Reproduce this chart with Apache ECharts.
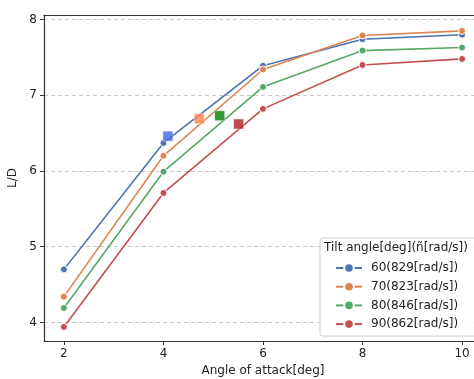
<!DOCTYPE html>
<html>
<head>
<meta charset="utf-8">
<script src="https://cdn.jsdelivr.net/npm/echarts@6/dist/echarts.min.js"></script>
<style>
  html, body { margin: 0; padding: 0; background: #fff; }
  #chart { width: 474px; height: 379px; }
</style>
</head>
<body>
<div id="chart"></div>
<script>
// angle of attack [deg]
const angles = [2, 4, 6, 8, 10];
// L/D per tilt angle
const ld60 = [4.70, 6.37, 7.39, 7.74, 7.80];
const ld70 = [4.34, 6.20, 7.34, 7.79, 7.85];
const ld80 = [4.19, 5.99, 7.11, 7.59, 7.63];
const ld90 = [3.94, 5.71, 6.82, 7.40, 7.48];
const names = ["60(829[rad/s])", "70(823[rad/s])", "80(846[rad/s])", "90(862[rad/s])"];
// highlighted points (squares)
const optX = [4.09, 4.72, 5.13, 5.51];
const optY = [6.46, 6.69, 6.73, 6.62];
const xTicks = [2, 4, 6, 8, 10];
const yTicks = [4, 5, 6, 7, 8];

const lineColors = ["#4c72b0", "#dd8452", "#55a868", "#c44e52"];
const squareColors = ["#4169e1", "#ff7f50", "#008000", "#b22222"];
const font = "DejaVu Sans";

const chart = echarts.init(document.getElementById("chart"), null, { renderer: "canvas" });

const lines = [ld60, ld70, ld80, ld90].map((vals, i) => ({
  name: names[i],
  type: "line",
  data: angles.map((a, j) => [a, vals[j]]),
  symbol: "circle",
  symbolSize: 7,
  color: lineColors[i],
  lineStyle: { width: 1.6, color: lineColors[i] },
  itemStyle: { color: lineColors[i], borderColor: "#fff", borderWidth: 1 },
  z: 2
}));

const squares = optX.map((x, i) => ({
  name: "opt" + i,
  type: "scatter",
  data: [[x, optY[i]]],
  symbol: "rect",
  symbolSize: 10,
  itemStyle: { color: squareColors[i], borderColor: "#fff", borderWidth: 0.5 },
  z: 3
}));

const xMin = 1.6, xMax = 10.4;

chart.setOption({
  animation: false,
  grid: { left: 44, top: 15, width: 438, height: 326, show: false, containLabel: false, outerBoundsMode: "none" },
  title: {
    text: "Tilt angle[deg](ñ[rad/s])",
    left: 324, top: 242,
    textStyle: { fontFamily: font, fontSize: 12, fontWeight: "normal", color: "#222" },
    padding: 0,
    z: 10
  },
  legend: {
    data: names,
    orient: "vertical",
    left: 320, top: 238,
    padding: [24, 40, 6, 15],
    itemGap: 6.7,
    itemWidth: 26, itemHeight: 12,
    textStyle: { fontFamily: font, fontSize: 12, color: "#222", padding: [0, 0, 0, 4] },
    backgroundColor: "rgba(255,255,255,0.85)",
    borderColor: "#ccc", borderWidth: 1, borderRadius: 3
  },
  xAxis: [{
    type: "value",
    min: xMin, max: xMax,
    name: "Angle of attack[deg]",
    nameLocation: "middle",
    nameGap: 24,
    nameTextStyle: { fontFamily: font, fontSize: 12, color: "#222" },
    axisLine: { show: true, lineStyle: { color: "#333", width: 1.2 } },
    axisTick: { show: true, inside: false, length: 4, customValues: xTicks, lineStyle: { color: "#333" } },
    axisLabel: { customValues: xTicks, fontFamily: font, fontSize: 12, color: "#222", margin: 7 },
    splitLine: { show: false }
  }, {
    type: "value",
    position: "top",
    min: xMin, max: xMax,
    axisLine: { show: true, lineStyle: { color: "#333", width: 1.2 } },
    axisTick: { show: false },
    axisLabel: { show: false },
    splitLine: { show: false }
  }],
  yAxis: {
    type: "value",
    min: 3.754, max: 8.06,
    name: "L/D",
    nameLocation: "middle",
    nameGap: 20,
    nameTextStyle: { fontFamily: font, fontSize: 12, color: "#222" },
    axisLine: { show: true, lineStyle: { color: "#333", width: 1.2 } },
    axisTick: { show: true, inside: false, length: 4, customValues: yTicks, lineStyle: { color: "#333" } },
    axisLabel: { customValues: yTicks, fontFamily: font, fontSize: 12, color: "#222", margin: 7 },
    splitLine: { show: true, lineStyle: { color: "#bbb", type: [4, 3], width: 0.8 } }
  },
  series: lines.concat(squares)
});
</script>
</body>
</html>
